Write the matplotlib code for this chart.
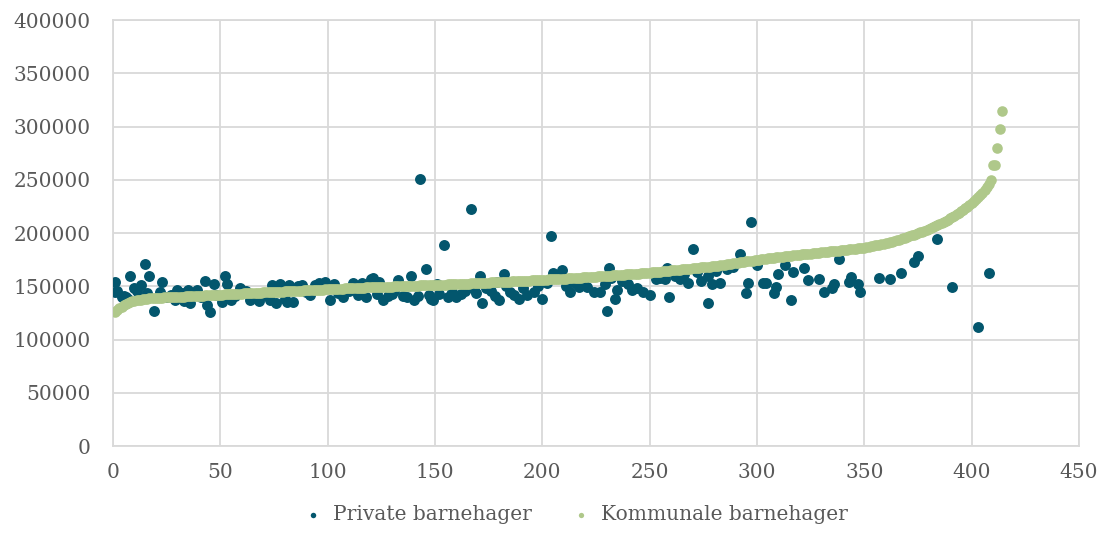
import numpy as np
import matplotlib
matplotlib.use("Agg")
import matplotlib.pyplot as plt

# Kommunale barnehager, sorted, values in thousand NOK (x = 1..414)
kommunal_k = [
    126.0, 128.0, 129.5, 131.0, 132.5, 133.5, 134.5, 135.5, 136.0, 136.5,
    137.0, 137.3, 137.6, 137.9, 138.2, 138.4, 138.6, 138.8, 139.0, 139.1,
    139.2, 139.3, 139.4, 139.5, 139.6, 139.7, 139.8, 139.9, 140.0, 140.1,
    140.2, 140.3, 140.4, 140.5, 140.6, 140.7, 140.8, 140.9, 141.0, 141.1,
    141.2, 141.3, 141.4, 141.5, 141.6, 141.7, 141.8, 141.9, 142.0, 142.2,
    142.3, 142.4, 142.5, 142.6, 142.7, 142.8, 142.9, 143.0, 143.1, 143.2,
    143.3, 143.4, 143.5, 143.6, 143.7, 143.8, 143.9, 144.0, 144.1, 144.2,
    144.3, 144.4, 144.5, 144.6, 144.7, 144.8, 144.9, 145.0, 145.1, 145.2,
    145.3, 145.4, 145.5, 145.6, 145.7, 145.8, 145.9, 146.0, 146.1, 146.2,
    146.3, 146.4, 146.5, 146.6, 146.7, 146.8, 146.9, 147.0, 147.1, 147.2,
    147.3, 147.4, 147.5, 147.6, 147.7, 147.8, 147.9, 148.0, 148.1, 148.2,
    148.3, 148.4, 148.5, 148.6, 148.6, 148.7, 148.8, 148.9, 149.0, 149.1,
    149.1, 149.2, 149.3, 149.4, 149.4, 149.5, 149.6, 149.7, 149.7, 149.8,
    149.9, 150.0, 150.0, 150.1, 150.2, 150.3, 150.3, 150.4, 150.5, 150.6,
    150.6, 150.7, 150.8, 150.9, 150.9, 151.0, 151.1, 151.2, 151.2, 151.3,
    151.4, 151.5, 151.5, 151.6, 151.7, 151.8, 151.9, 151.9, 152.0, 152.1,
    152.2, 152.3, 152.3, 152.4, 152.5, 152.6, 152.7, 152.8, 152.9, 153.0,
    153.1, 153.2, 153.3, 153.4, 153.5, 153.6, 153.7, 153.8, 153.9, 154.0,
    154.1, 154.2, 154.3, 154.4, 154.5, 154.6, 154.7, 154.8, 154.9, 155.0,
    155.1, 155.2, 155.3, 155.4, 155.5, 155.6, 155.7, 155.8, 155.9, 156.0,
    156.1, 156.2, 156.4, 156.5, 156.6, 156.7, 156.8, 157.0, 157.1, 157.2,
    157.3, 157.5, 157.6, 157.7, 157.8, 158.0, 158.1, 158.2, 158.4, 158.5,
    158.6, 158.8, 158.9, 159.0, 159.2, 159.3, 159.4, 159.6, 159.7, 159.8,
    160.0, 160.1, 160.2, 160.4, 160.5, 160.7, 160.8, 161.0, 161.1, 161.3,
    161.4, 161.6, 161.7, 161.9, 162.0, 162.2, 162.4, 162.5, 162.7, 162.9,
    163.1, 163.3, 163.5, 163.7, 163.9, 164.1, 164.3, 164.5, 164.7, 164.9,
    165.1, 165.3, 165.5, 165.7, 165.9, 166.1, 166.3, 166.5, 166.7, 166.9,
    167.1, 167.3, 167.5, 167.7, 167.9, 168.1, 168.3, 168.5, 168.7, 169.0,
    169.2, 169.5, 169.8, 170.0, 170.3, 170.6, 170.9, 171.2, 171.5, 171.8,
    172.1, 172.4, 172.7, 173.0, 173.3, 173.6, 173.9, 174.2, 174.5, 174.8,
    175.0, 175.3, 175.6, 175.9, 176.2, 176.4, 176.7, 177.0, 177.2, 177.5,
    177.7, 177.9, 178.1, 178.4, 178.6, 178.8, 179.0, 179.2, 179.5, 179.7,
    179.9, 180.1, 180.3, 180.6, 180.8, 181.0, 181.2, 181.4, 181.7, 181.9,
    182.1, 182.3, 182.5, 182.8, 183.0, 183.2, 183.4, 183.6, 183.9, 184.1,
    184.3, 184.5, 184.7, 185.0, 185.2, 185.4, 185.6, 185.9, 186.1, 186.4,
    186.8, 187.2, 187.6, 188.0, 188.4, 188.8, 189.2, 189.6, 190.0, 190.4,
    190.9, 191.4, 191.9, 192.5, 193.1, 193.7, 194.3, 195.0, 195.7, 196.4,
    197.1, 197.8, 198.5, 199.2, 199.9, 200.6, 201.3, 202.1, 202.9, 203.8,
    204.7, 205.6, 206.5, 207.4, 208.3, 209.3, 210.3, 211.4, 212.6, 213.8,
    215.0, 216.3, 217.6, 219.0, 220.4, 221.8, 223.2, 224.7, 226.3, 228.0,
    229.8, 231.7, 233.7, 235.8, 238.0, 240.5, 243.5, 246.5, 249.8, 263.8,
    264.0, 279.5, 297.3, 314.6,
]

# Private barnehager (x = same kommune index), values in thousand NOK
privat_x = [
    1, 1, 2, 4, 5, 6, 7, 8, 10, 11,
    13, 15, 16, 17, 19, 22, 23, 25, 27, 29,
    30, 32, 33, 35, 36, 39, 41, 43, 44, 45,
    47, 48, 51, 52, 53, 55, 57, 59, 62, 64,
    66, 68, 71, 73, 74, 76, 78, 80, 81, 82,
    84, 86, 88, 90, 92, 94, 96, 99, 101, 103,
    105, 107, 110, 112, 114, 116, 118, 120, 121, 123,
    124, 126, 128, 130, 131, 133, 135, 137, 139, 140,
    142, 143, 146, 147, 148, 149, 151, 152, 154, 156,
    158, 160, 162, 164, 165, 167, 168, 169, 171, 172,
    174, 176, 178, 179, 180, 182, 183, 185, 187, 189,
    191, 193, 196, 198, 200, 202, 204, 205, 207, 209,
    211, 213, 215, 217, 219, 221, 224, 227, 229, 230,
    231, 232, 234, 235, 237, 240, 242, 244, 247, 250,
    253, 255, 257, 258, 259, 262, 264, 266, 268, 270,
    272, 274, 277, 277, 279, 281, 283, 286, 289, 292,
    295, 296, 297, 300, 303, 304, 308, 309, 310, 313,
    316, 317, 322, 324, 329, 331, 335, 336, 338, 343,
    344, 347, 348, 357, 362, 367, 373, 375, 384, 391,
    403, 408,
]
privat_k = [
    154.3, 144.9, 146.0, 140.2, 141.0, 139.5, 138.0, 159.6, 148.0, 146.0,
    151.0, 170.6, 143.4, 159.6, 127.0, 145.0, 154.3, 140.2, 142.0, 137.0,
    146.5, 144.0, 136.0, 146.5, 134.6, 146.5, 140.0, 155.0, 132.4, 125.8,
    152.0, 142.0, 135.5, 160.0, 152.5, 137.0, 141.0, 148.5, 146.0, 137.0,
    140.0, 136.0, 142.0, 137.0, 151.5, 134.0, 152.5, 138.0, 135.5, 151.2,
    135.5, 150.0, 151.2, 145.0, 141.6, 151.0, 153.0, 154.3, 137.0, 152.0,
    144.0, 140.2, 146.0, 152.8, 142.0, 152.8, 140.0, 156.4, 157.4, 143.0,
    154.0, 137.0, 141.0, 143.0, 146.0, 155.9, 141.0, 140.0, 159.6, 137.0,
    141.0, 250.7, 165.9, 142.0, 138.0, 137.0, 152.0, 143.0, 188.7, 140.0,
    145.0, 140.0, 143.0, 146.0, 149.0, 222.3, 147.5, 143.5, 159.6, 134.0,
    148.0, 146.0, 141.0, 154.3, 137.0, 161.5, 150.0, 145.0, 142.0, 138.5,
    148.0, 141.6, 144.7, 150.0, 138.5, 153.0, 197.2, 162.2, 158.0, 165.3,
    150.0, 144.7, 153.0, 149.5, 155.0, 149.5, 144.7, 144.7, 152.0, 127.0,
    166.8, 158.0, 138.5, 146.3, 155.0, 152.0, 147.0, 148.0, 145.0, 142.0,
    156.4, 158.0, 156.4, 166.8, 140.2, 160.0, 156.4, 162.0, 153.3, 185.5,
    163.0, 155.0, 159.6, 134.6, 152.0, 164.0, 153.3, 166.0, 168.0, 180.3,
    144.0, 152.8, 210.3, 170.0, 152.8, 153.4, 143.4, 149.6, 161.2, 170.0,
    137.5, 163.7, 166.8, 156.2, 156.5, 144.9, 148.0, 152.5, 175.3, 154.5,
    159.0, 152.5, 144.7, 158.2, 156.6, 162.7, 172.5, 178.4, 194.4, 149.6,
    112.0, 162.2,
]

TEAL = "#03566D"
GREEN = "#AFC88A"
GRID = "#D9D9D9"
TEXT = "#595959"

plt.rcParams.update({
    "font.family": ["DejaVu Serif"],
    "font.size": 14,
})

kommunal_x = np.arange(1, len(kommunal_k) + 1)
kommunal_y = np.array(kommunal_k) * 1000
privat_y = np.array(privat_k) * 1000

fig = plt.figure(figsize=(11.01, 5.42), dpi=100)
ax = fig.add_axes([0.1026, 0.177, 0.8774, 0.786])

ax.scatter(privat_x, privat_y, s=62, color=TEAL, linewidths=0, zorder=3,
           label="Private barnehager")
ax.scatter(kommunal_x, kommunal_y, s=58, color=GREEN, linewidths=0, zorder=4,
           label="Kommunale barnehager")

ax.set_xlim(0, 450)
ax.set_ylim(0, 400000)
ax.set_xticks(np.arange(0, 451, 50))
ax.set_yticks(np.arange(0, 400001, 50000))
ax.grid(True, color=GRID, linewidth=1.3, zorder=0)
ax.set_axisbelow(True)
for sp in ax.spines.values():
    sp.set_color(GRID)
    sp.set_linewidth(1.3)
ax.tick_params(length=0, colors=TEXT, labelsize=14.5)
ax.tick_params(axis="y", pad=16)
ax.tick_params(axis="x", pad=12)

fig.legend(loc="lower center", bbox_to_anchor=(0.518, 0.0), ncol=2,
           frameon=False, markerscale=0.5, handletextpad=0.0,
           columnspacing=1.4, fontsize=14.5, labelcolor=TEXT)

fig.savefig("out.png", dpi=100)
